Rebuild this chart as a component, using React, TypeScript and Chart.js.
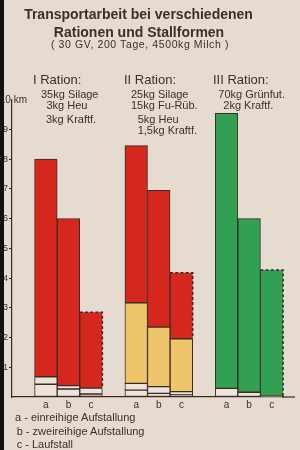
import React, { useEffect, useRef } from 'react';
import { Chart, registerables } from 'chart.js';

Chart.register(...registerables);

// ---------- data ----------
const categories = ['', 'a', 'b', 'c', '', 'a', 'b', 'c', '', 'a', 'b', 'c'];
const kraftfutter = [null, 0.43, 0.27, 0.1, null, 0.23, 0.12, 0.07, null, 0.29, 0.16, 0.04];
const heu = [null, 0.25, 0.11, 0.2, null, 0.23, 0.23, 0.11, null, null, null, null];
const rueben = [null, null, null, null, null, 2.71, 2.0, 1.78, null, null, null, null];
const silage = [null, 7.32, 5.62, 2.55, null, 5.28, 4.6, 2.22, null, null, null, null];
const gruenfutter = [null, null, null, null, null, null, null, null, null, 9.25, 5.84, 4.23];
const laufstallIndices = [3, 7, 11];
const yTickValues = [1, 2, 3, 4, 5, 6, 7, 8, 9];

const titleLines = ['Transportarbeit bei verschiedenen', 'Rationen und Stallformen'];
const subtitleText = '( 30 GV,  200 Tage, 4500kg Milch )';
const rationHeaders = ['I Ration:', 'II Ration:', 'III Ration:'];
const rationI = ['35kg Silage', '3kg Heu', '3kg Kraftf.'];
const rationII = ['25kg Silage', '15kg Fu-Rüb.', '5kg Heu', '1,5kg Kraftf.'];
const rationIII = ['70kg Grünfut.', '2kg Kraftf.'];
const unitLabel = '10 km';
const legendLines = ['a - einreihige Aufstallung', 'b - zweireihige Aufstallung', 'c - Laufstall'];

// ---------- styles ----------
const BG = '#e6dbd1';
const INK = '#3a302c';
const EDGE = '#3b2a25';
const WHITE_BOX = '#ece3da';
const RED = '#d6271f';
const YELLOW = '#efc56c';
const GREEN = '#31a052';

const dashedPlugin = {
  id: 'dashedOpen',
  afterDatasetsDraw(chart: any) {
    const ctx = chart.ctx;
    ctx.save();
    ctx.strokeStyle = EDGE;
    ctx.lineWidth = 1.6;
    ctx.setLineDash([3, 2.2]);
    chart.data.datasets.forEach((ds: any, di: number) => {
      if (!ds._openTop) return;
      const meta = chart.getDatasetMeta(di);
      laufstallIndices.forEach((idx) => {
        if (ds.data[idx] == null) return;
        const el = meta.data[idx];
        if (!el) return;
        const p = el.getProps(['x', 'y', 'base', 'width'], true);
        const l = p.x - p.width / 2;
        const r = p.x + p.width / 2;
        ctx.beginPath();
        ctx.moveTo(l, p.y);
        ctx.lineTo(r, p.y);
        ctx.lineTo(r, p.base);
        ctx.stroke();
      });
    });
    ctx.restore();
    // extend baseline to the right
    const area = chart.chartArea;
    ctx.save();
    ctx.strokeStyle = EDGE;
    ctx.lineWidth = 1.2;
    ctx.beginPath();
    ctx.moveTo(area.right - 1, area.bottom);
    ctx.lineTo(295, area.bottom);
    ctx.stroke();
    ctx.restore();
  },
};

function T(props: { x: number; y: number; size: number; bold?: boolean; center?: boolean; right?: boolean; spacing?: number; children: React.ReactNode }) {
  const { x, y, size, bold, center, right, spacing, children } = props;
  return (
    <div
      style={{
        position: 'absolute',
        left: x,
        top: y - size / 2,
        fontSize: size,
        lineHeight: `${size}px`,
        fontWeight: bold ? 700 : 400,
        letterSpacing: spacing ? `${spacing}px` : undefined,
        whiteSpace: 'nowrap',
        transform: center ? 'translateX(-50%)' : right ? 'translateX(-100%)' : undefined,
      }}
    >
      {children}
    </div>
  );
}

export default function App() {
  const ref = useRef<HTMLCanvasElement>(null);

  useEffect(() => {
    if (!ref.current) return;
    const openBorder = (ctx: any) =>
      laufstallIndices.includes(ctx.dataIndex)
        ? { left: 1, bottom: 1, top: 0, right: 0 }
        : 1;
    const seg = (label: string, data: any[], color: string, openTop = false) => ({
      label,
      data,
      backgroundColor: color,
      borderColor: EDGE,
      borderWidth: openTop ? openBorder : 1,
      borderSkipped: false,
      barPercentage: 1,
      categoryPercentage: 1,
      _openTop: openTop,
    });
    const chart = new Chart(ref.current, {
      type: 'bar',
      data: {
        labels: categories,
        datasets: [
          seg('Kraftfutter', kraftfutter, WHITE_BOX),
          seg('Heu', heu, WHITE_BOX),
          seg('Futterrüben', rueben, YELLOW),
          seg('Silage', silage, RED, true),
          seg('Grünfutter', gruenfutter, GREEN, true),
        ] as any,
      },
      options: {
        responsive: false,
        animation: false,
        events: [],
        layout: { padding: { top: 99.6, left: 0, right: 17, bottom: 37 } },
        plugins: { legend: { display: false }, tooltip: { enabled: false }, title: { display: false } },
        scales: {
          x: {
            stacked: true,
            afterFit: (s: any) => { s.height = 16; },
            grid: { drawOnChartArea: false, drawTicks: false },
            border: { display: true, color: EDGE, width: 1.2 },
            ticks: { color: INK, padding: 2, font: { family: 'Liberation Sans', size: 10 }, maxRotation: 0, autoSkip: false },
          },
          y: {
            stacked: true,
            min: 0,
            max: 10,
            afterFit: (s: any) => { s.width = 12; },
            afterBuildTicks: (s: any) => {
              s.ticks = [0, ...yTickValues, 10].map((v) => ({ value: v }));
            },
            grid: {
              drawOnChartArea: false,
              drawTicks: true,
              tickLength: 3,
              tickColor: (c: any) => (yTickValues.includes(c.tick?.value) ? EDGE : 'rgba(0,0,0,0)'),
            },
            border: { display: true, color: EDGE, width: 1.2 },
            ticks: {
              color: INK,
              padding: 1,
              font: { family: 'Liberation Sans', size: 9 },
              callback: (v: any) => (yTickValues.includes(Number(v)) ? String(v) : ''),
            },
          },
        },
      },
      plugins: [dashedPlugin],
    });
    return () => chart.destroy();
  }, []);

  return (
    <div
      style={{
        position: 'fixed',
        left: 0,
        top: 0,
        width: 300,
        height: 450,
        overflow: 'hidden',
        background: BG,
        color: INK,
        fontFamily: '"Liberation Sans", Arial, sans-serif',
      }}
    >
      <canvas ref={ref} width={300} height={450} style={{ position: 'absolute', left: 0, top: 0 }} />
      <T x={138.5} y={14} size={14} bold center>{titleLines[0]}</T>
      <T x={139} y={31.5} size={14} bold center>{titleLines[1]}</T>
      <T x={140} y={44.5} size={10.5} spacing={0.6} center>{subtitleText}</T>

      <T x={33} y={79} size={13}>{rationHeaders[0]}</T>
      <T x={124} y={79} size={13}>{rationHeaders[1]}</T>
      <T x={213} y={79} size={13}>{rationHeaders[2]}</T>

      <T x={41} y={94} size={11}>{rationI[0]}</T>
      <T x={46.5} y={105.7} size={11}>{rationI[1]}</T>
      <T x={46} y={119.3} size={11}>{rationI[2]}</T>

      <T x={131} y={94} size={11}>{rationII[0]}</T>
      <T x={131} y={105.7} size={11}>{rationII[1]}</T>
      <T x={137.7} y={119} size={11}>{rationII[2]}</T>
      <T x={137.7} y={130.5} size={11}>{rationII[3]}</T>

      <T x={218.3} y={94} size={11}>{rationIII[0]}</T>
      <T x={223.3} y={105.7} size={11}>{rationIII[1]}</T>

      <T x={27} y={99.5} size={10} right>{unitLabel}</T>

      <T x={15} y={417} size={11}>{legendLines[0]}</T>
      <T x={16.7} y={431.5} size={11}>{legendLines[1]}</T>
      <T x={16.7} y={444.3} size={11}>{legendLines[2]}</T>

      <div style={{ position: 'absolute', left: 0, top: 0, width: 4, height: 450, background: '#141010' }} />
    </div>
  );
}
